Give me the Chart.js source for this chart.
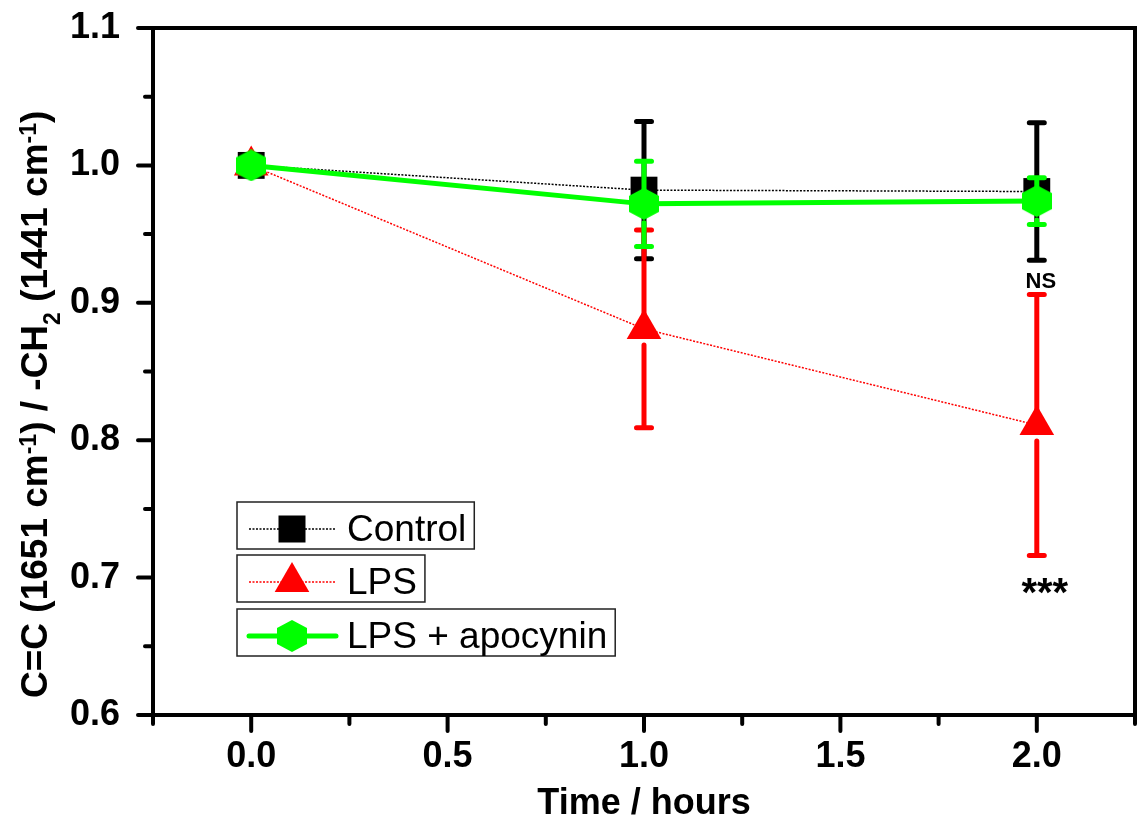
<!DOCTYPE html>
<html>
<head>
<meta charset="utf-8">
<script src="https://cdn.jsdelivr.net/npm/chart.js@4.4.0/dist/chart.umd.min.js"></script>
<style>
    html, body { margin: 0; padding: 0; background: #fff; }
    #wrap { width: 1139px; height: 823px; }
</style>
</head>
<body>
<div id="wrap"><canvas id="chart" width="1139" height="823"></canvas></div>
<script>
// values
const times = [0, 1, 2];
const controlVals = [1.0, 0.982, 0.981];
const controlErr = [0, 0.050, 0.050];
const lpsVals = [1.0, 0.881, 0.811];
const lpsErr = [0, 0.072, 0.095];
const apoVals = [1.0, 0.972, 0.974];
const apoErr = [0, 0.031, 0.017];
const seriesNames = ['Control', 'LPS', 'LPS + apocynin'];
const noteTexts = ['NS', '***'];
const noteTimes = [2, 2];
const noteVals = [0.911, 0.679];

const FONT = '"Liberation Sans", Arial, sans-serif';
Chart.defaults.font.family = FONT;
Chart.defaults.color = '#000';

// hexagon marker (pointy top) used for the apocynin series
const hexImg = document.createElement('canvas');
hexImg.width = 30;
hexImg.height = 32;
(function () {
    const c = hexImg.getContext('2d');
    c.fillStyle = '#00ff00';
    c.beginPath();
    c.moveTo(15, 0);
    c.lineTo(30, 8);
    c.lineTo(30, 24);
    c.lineTo(15, 32);
    c.lineTo(0, 24);
    c.lineTo(0, 8);
    c.closePath();
    c.fill();
})();

const toPoints = vals => times.map((t, i) => ({ x: t, y: vals[i] }));

// error bars drawn just before each dataset, so its marker sits on top
const errorBars = {
    id: 'errorBars',
    beforeDatasetDraw(chart, args) {
        const ds = chart.data.datasets[args.index];
        const xs = chart.scales.x, ys = chart.scales.y;
        const ctx = chart.ctx;
        ctx.save();
        ctx.strokeStyle = ds.errColor;
        ctx.lineWidth = 5;
        ctx.lineCap = 'round';
        ds.data.forEach((p, i) => {
            const e = ds.errors[i];
            if (!e) return;
            const px = xs.getPixelForValue(p.x);
            const pc = ys.getPixelForValue(p.y);
            const pt = ys.getPixelForValue(p.y + e);
            const pb = ys.getPixelForValue(p.y - e);
            ctx.beginPath();
            ctx.moveTo(px, pt);
            ctx.lineTo(px, pc);
            if (pc + ds.errGap < pb) {
                ctx.moveTo(px, pc + ds.errGap);
                ctx.lineTo(px, pb);
            }
            ctx.moveTo(px - 7.5, pt);
            ctx.lineTo(px + 7.5, pt);
            ctx.moveTo(px - 7.5, pb);
            ctx.lineTo(px + 7.5, pb);
            ctx.stroke();
        });
        ctx.restore();
    }
};

function drawMarker(ctx, style, x, y) {
    if (style === 'rect') {
        ctx.fillStyle = '#000';
        ctx.fillRect(x - 13.5, y - 13.5, 27, 27);
    } else if (style === 'triangle') {
        ctx.fillStyle = '#ff0000';
        ctx.beginPath();
        ctx.moveTo(x, y - 20);
        ctx.lineTo(x + 17.3, y + 10);
        ctx.lineTo(x - 17.3, y + 10);
        ctx.closePath();
        ctx.fill();
    } else {
        ctx.drawImage(hexImg, x - 15, y - 16);
    }
}

// frame, outward ticks, y title, legend boxes and notes
const decorations = {
    id: 'decorations',
    afterDatasetsDraw(chart) {
        const ctx = chart.ctx;
        const a = chart.chartArea;
        const xs = chart.scales.x, ys = chart.scales.y;
        ctx.save();
        ctx.strokeStyle = '#000';
        ctx.lineWidth = 4;
        ctx.lineCap = 'round';
        ctx.strokeRect(a.left, a.top, a.right - a.left, a.bottom - a.top);
        ctx.beginPath();
        xs.ticks.forEach(t => {
            const px = xs.getPixelForValue(t.value);
            const major = Math.round(t.value * 100) % 50 === 0;
            ctx.moveTo(px, a.bottom);
            ctx.lineTo(px, a.bottom + (major ? 16 : 9));
        });
        ys.ticks.forEach(t => {
            const py = ys.getPixelForValue(t.value);
            const major = Math.round(t.value * 100) % 10 === 0;
            ctx.moveTo(a.left, py);
            ctx.lineTo(a.left - (major ? 15 : 8), py);
        });
        ctx.stroke();
        ctx.restore();
    },
    afterDraw(chart) {
        const ctx = chart.ctx;
        const xs = chart.scales.x, ys = chart.scales.y;
        ctx.save();
        ctx.fillStyle = '#000';

        // y axis title with super/subscripts
        const parts = [['C=C (1651 cm', 0], ['-1', 1], [') / -CH', 0], ['2', -1],
                       [' (1441 cm', 0], ['-1', 1], [')', 0]];
        ctx.save();
        ctx.translate(47, 698);
        ctx.rotate(-Math.PI / 2);
        ctx.textBaseline = 'alphabetic';
        ctx.textAlign = 'left';
        let tx = 0;
        parts.forEach(([t, k]) => {
            ctx.font = k === 0 ? 'bold 37px ' + FONT : 'bold 23px ' + FONT;
            const dy = k === 1 ? -11 : (k === -1 ? 13 : 0);
            ctx.fillText(t, tx, dy);
            tx += ctx.measureText(t).width;
        });
        ctx.restore();

        // legend, one box per series
        const tops = [502, 555, 609];
        chart.data.datasets.forEach((ds, i) => {
            const top = tops[i];
            const cy = top + 27;
            ctx.font = '37px ' + FONT;
            const w = ctx.measureText(ds.label).width;
            ctx.lineWidth = 1.5;
            ctx.strokeStyle = '#222';
            ctx.strokeRect(237, top, 347 + w + 8 - 237, 47);
            ctx.save();
            ctx.strokeStyle = ds.borderColor;
            ctx.lineWidth = ds.borderWidth;
            ctx.lineCap = ds.borderDash.length ? 'butt' : 'round';
            ctx.setLineDash(ds.borderDash);
            ctx.beginPath();
            ctx.moveTo(249, cy);
            ctx.lineTo(336, cy);
            ctx.stroke();
            ctx.restore();
            drawMarker(ctx, ds.legendMarker, 292, cy);
            ctx.fillStyle = '#000';
            ctx.textAlign = 'left';
            ctx.textBaseline = 'alphabetic';
            ctx.fillText(ds.label, 347, top + 39);
        });

        // significance notes
        ctx.textAlign = 'center';
        ctx.textBaseline = 'alphabetic';
        noteTexts.forEach((t, i) => {
            ctx.font = (i === 0 ? 'bold 22px ' : 'bold 40px ') + FONT;
            ctx.fillText(t, xs.getPixelForValue(noteTimes[i]) + (i === 0 ? 4 : 8), ys.getPixelForValue(noteVals[i]));
        });
        ctx.restore();
    }
};

const ctxMain = document.getElementById('chart').getContext('2d');
new Chart(ctxMain, {
    type: 'line',
    data: {
        datasets: [{
            label: seriesNames[0],
            data: toPoints(controlVals),
            errors: controlErr,
            errColor: '#000',
            errGap: 20,
            legendMarker: 'rect',
            borderColor: '#000',
            borderWidth: 1.5,
            borderDash: [2, 1.5],
            pointStyle: 'rect',
            pointRadius: 19,
            pointBackgroundColor: '#000',
            pointBorderColor: '#000',
            pointBorderWidth: 0,
            order: 3
        }, {
            label: seriesNames[1],
            data: toPoints(lpsVals),
            errors: lpsErr,
            errColor: '#ff0000',
            errGap: 16,
            legendMarker: 'triangle',
            borderColor: '#ff0000',
            borderWidth: 1.5,
            borderDash: [2, 1.5],
            pointStyle: 'triangle',
            pointRadius: 20,
            pointBackgroundColor: '#ff0000',
            pointBorderColor: '#ff0000',
            pointBorderWidth: 0,
            order: 2
        }, {
            label: seriesNames[2],
            data: toPoints(apoVals),
            errors: apoErr,
            errColor: '#00ff00',
            errGap: 19,
            legendMarker: 'hex',
            borderColor: '#00ff00',
            borderWidth: 5,
            borderDash: [],
            borderCapStyle: 'round',
            pointStyle: hexImg,
            pointRadius: 15,
            order: 1
        }]
    },
    options: {
        responsive: false,
        animation: false,
        layout: { autoPadding: false, padding: { top: 28, right: 4, left: 0, bottom: 0 } },
        plugins: {
            legend: { display: false },
            tooltip: { enabled: false }
        },
        scales: {
            x: {
                type: 'linear',
                min: -0.25,
                max: 2.25,
                grid: { display: false },
                border: { display: false },
                ticks: {
                    stepSize: 0.25,
                    autoSkip: false,
                    maxRotation: 0,
                    padding: 12,
                    font: { size: 36, weight: 'bold' },
                    callback: v => (Math.round(v * 100) % 50 === 0 ? v.toFixed(1) : '')
                },
                title: {
                    display: true,
                    text: 'Time / hours',
                    font: { size: 36, weight: 'bold', lineHeight: 1.05 },
                    padding: { top: 0, bottom: 0 }
                },
                afterFit: s => {
                    s.height = 108;
                    s.paddingLeft = 0;
                    s.paddingRight = 0;
                }
            },
            y: {
                min: 0.6,
                max: 1.1,
                grid: { display: false },
                border: { display: false },
                ticks: {
                    stepSize: 0.05,
                    autoSkip: false,
                    padding: 25,
                    font: { size: 36, weight: 'bold' },
                    callback: v => (Math.round(v * 100) % 10 === 0 ? v.toFixed(1) : '')
                },
                afterFit: s => {
                    s.width = 153;
                    s.paddingTop = 0;
                    s.paddingBottom = 0;
                }
            }
        }
    },
    plugins: [errorBars, decorations]
});
</script>
</body>
</html>
